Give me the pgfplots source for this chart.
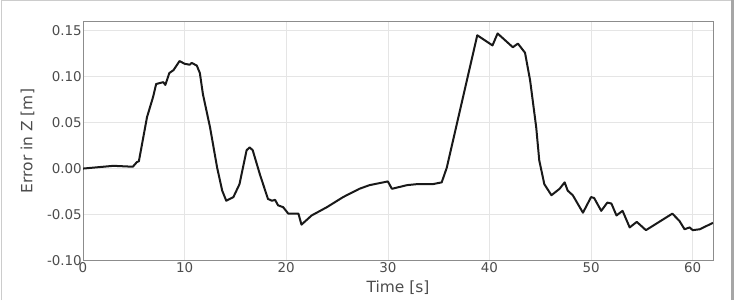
\documentclass[border=0pt]{standalone}
\usepackage{fontspec}
\setmainfont{DejaVu Sans}
\usepackage{pgfplots}
\pgfplotsset{compat=1.18}
\definecolor{spine}{gray}{0.55}
\definecolor{gridc}{gray}{0.9}
\definecolor{txt}{gray}{0.3}
\begin{document}
\begin{tikzpicture}[x=1bp,y=1bp]
\path[use as bounding box] (0,0) rectangle (735,300);
\draw[gray!40, line width=1bp] (1,0) -- (1,299) -- (732,299);
\draw[gray!70, line width=2.5bp] (732.5,0) -- (732.5,300);
\begin{axis}[
  scale only axis,
  width=630bp, height=239bp,
  at={(83bp,39.5bp)}, anchor=south west,
  xmin=0, xmax=62, ymin=-0.10, ymax=0.16,
  xtick={0,10,20,30,40,50,60},
  ytick={-0.10,-0.05,0,0.05,0.10,0.15},
  yticklabel style={/pgf/number format/fixed, /pgf/number format/fixed zerofill, /pgf/number format/precision=2, inner sep=1bp},
  /pgf/number format/assume math mode=true,
  tick label style={font=\fontsize{13.5}{15}\selectfont, text=txt},
  xticklabel style={inner sep=1.5bp},
  xlabel={Time [s]}, ylabel={Error in Z [m]},
  label style={font=\fontsize{15.5}{17}\selectfont, text=txt},
  xlabel style={yshift=-3bp},
  ylabel style={yshift=8bp},
  axis line style={spine, line width=0.8bp},
  major tick length=0pt,
  grid=major, major grid style={gridc, line width=0.6bp},
  clip=true,
]
\addplot[black!90, line width=2bp, line join=round] coordinates {
(0,0.0) (3,0.003) (4.9,0.002) (5.3,0.007) (5.5,0.008) (6.3,0.056) (6.9,0.078)
(7.2,0.092) (7.9,0.094) (8.1,0.091) (8.5,0.104) (8.9,0.107) (9.2,0.112) (9.5,0.117)
(10.0,0.114) (10.5,0.113) (10.7,0.115) (11.2,0.112) (11.5,0.104) (11.8,0.081)
(12.5,0.045) (13.2,0.001) (13.7,-0.024) (14.1,-0.035) (14.8,-0.031) (15.4,-0.017)
(16.1,0.020) (16.4,0.023) (16.7,0.020) (17.4,-0.006) (18.2,-0.033) (18.6,-0.035)
(18.9,-0.034) (19.2,-0.040) (19.7,-0.042) (20.2,-0.049) (20.7,-0.049) (21.2,-0.049)
(21.5,-0.061) (22.5,-0.051) (24.0,-0.042) (25.6,-0.031) (27.2,-0.022) (28.2,-0.018)
(30.0,-0.014) (30.4,-0.022) (31.9,-0.018) (32.8,-0.017) (34.4,-0.017) (35.3,-0.015)
(35.8,0.001) (36.8,0.049) (38.8,0.145) (40.3,0.134) (40.8,0.147) (42.3,0.132)
(42.8,0.136) (43.5,0.126) (44.0,0.096) (44.6,0.045) (44.9,0.009) (45.4,-0.017)
(46.1,-0.029) (46.9,-0.022) (47.4,-0.015) (47.7,-0.024) (48.2,-0.029) (49.2,-0.048)
(50.0,-0.031) (50.3,-0.032) (51.0,-0.046) (51.6,-0.037) (52.0,-0.038) (52.5,-0.051)
(53.1,-0.046) (53.8,-0.064) (54.5,-0.058) (54.9,-0.062) (55.4,-0.067) (56.7,-0.058)
(58.0,-0.049) (58.7,-0.057) (59.2,-0.066) (59.7,-0.064) (60.0,-0.067) (60.7,-0.066)
(62.0,-0.059)
};
\end{axis}
\end{tikzpicture}
\end{document}
